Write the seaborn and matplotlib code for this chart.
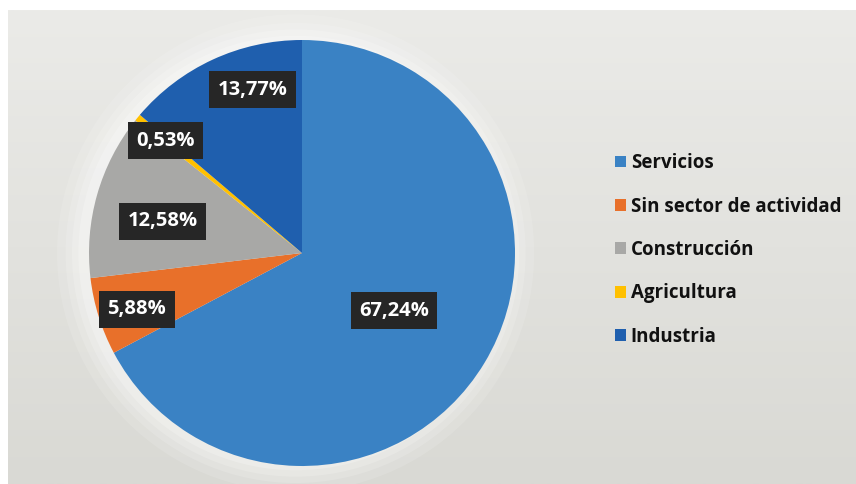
import numpy as np
import matplotlib
matplotlib.use("Agg")
import matplotlib.pyplot as plt
import seaborn as sns

# datos del gráfico
sectores = ["Servicios", "Sin sector de actividad", "Construcción", "Agricultura", "Industria"]
porcentajes = [67.24, 5.88, 12.58, 0.53, 13.77]
etiquetas = ["67,24%", "5,88%", "12,58%", "0,53%", "13,77%"]

colores = ["#3a82c4", "#e8702a", "#a8a8a6", "#ffc000", "#1f5fae"]
# distancia / desplazamiento angular de cada etiqueta (estilo)
dist_etiqueta = [0.51, 0.82, 0.67, 0.83, 0.80]
desp_angulo = [-1, 1.5, 3, 0, -8]

sns.set_style("white")
plt.rcParams['font.family'] = ['Open Sans', 'DejaVu Sans']

fig = plt.figure(figsize=(8.56, 4.84), dpi=100)
fig.patch.set_facecolor("white")

# fondo gris con degradado
bg = fig.add_axes([8/856, 0, 1 - 8/856, 1 - 10/484])
grad = np.linspace(0, 1, 256).reshape(-1, 1)
bg.imshow(grad, aspect="auto", cmap=matplotlib.colors.LinearSegmentedColormap.from_list(
    "g", ["#ebebe8", "#d9d9d4"]), extent=[0, 1, 0, 1])
bg.set_axis_off()

# halo suave alrededor de la tarta
cx, cy, r = 302, 253, 213
ax = fig.add_axes([(cx - r) / 856, (484 - cy - r) / 484, 2 * r / 856, 2 * r / 484])
for k, a in zip([1.12, 1.08, 1.05, 1.02], [0.12, 0.15, 0.18, 0.22]):
    ax.add_patch(plt.Circle((-0.03, 0), k, color="white", alpha=a, lw=0, clip_on=False))

wedges, _ = ax.pie(porcentajes, colors=colores, startangle=90, counterclock=False,
                   radius=1.0, wedgeprops=dict(linewidth=0))
ax.set_xlim(-1, 1)
ax.set_ylim(-1, 1)
ax.set_aspect("equal")

for w, txt, d, off in zip(wedges, etiquetas, dist_etiqueta, desp_angulo):
    ang = np.deg2rad((w.theta1 + w.theta2) / 2 + off)
    ax.text(d * np.cos(ang), d * np.sin(ang), txt, ha="center", va="center",
            fontsize=14.5, fontweight="bold", color="white", zorder=5,
            bbox=dict(boxstyle="square,pad=0.42", facecolor="#262626", edgecolor="none"))

leg = fig.legend(wedges, sectores, loc="center left", bbox_to_anchor=(598/856, 1 - 250/484),
                 frameon=False, handlelength=0.6, handleheight=0.6, handletextpad=0.25,
                 labelspacing=1.25, prop=dict(family=['Open Sans', 'DejaVu Sans'], weight="bold", size=13.5))
for t in leg.get_texts():
    t.set_color("#111111")

fig.savefig("out.png", dpi=100, facecolor=fig.get_facecolor())
